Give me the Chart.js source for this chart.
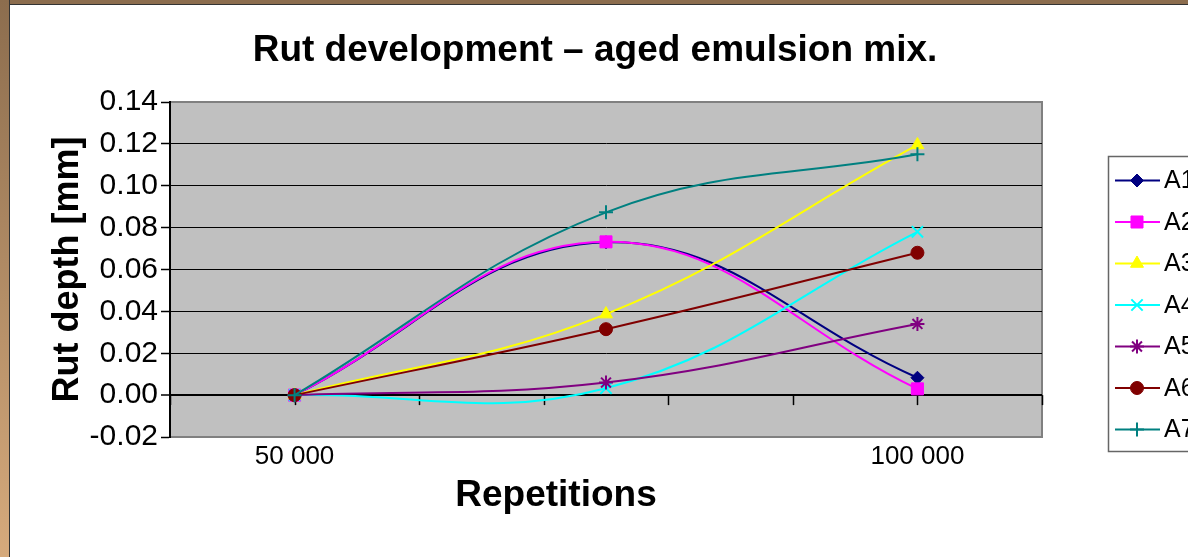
<!DOCTYPE html>
<html>
<head>
<meta charset="utf-8">
<title>Rut development</title>
<script src="https://cdn.jsdelivr.net/npm/chart.js@4.4.1/dist/chart.umd.min.js"></script>
<style>
  html, body { margin: 0; padding: 0; background: #fff; overflow: hidden; }
  #wrap { position: relative; width: 1188px; height: 557px; }
  #canvas { position: absolute; left: 0; top: 0; }
  .frame-top { position: absolute; left: 0; top: 0; width: 1188px; height: 4px; background: #8c6d4e; border-bottom: 1px solid #333; }
  .frame-left { position: absolute; left: 0; top: 0; width: 9px; height: 557px; background: linear-gradient(#8c6d4e, #d6aa7c); border-right: 1px solid #333; }
</style>
</head>
<body>
<div id="wrap">
  <canvas id="canvas" width="1188" height="557"></canvas>
  <div class="frame-top"></div>
  <div class="frame-left"></div>
</div>
<script>
// data
var repetitions = [50000, 75000, 100000];
var seriesNames = ['A1', 'A2', 'A3', 'A4', 'A5', 'A6', 'A7'];
var a1 = [0, 0.0730, 0.0083];
var a2 = [0, 0.0732, 0.0030];
var a3 = [0, 0.0387, 0.1195];
var a4 = [0, 0.0033, 0.0780];
var a5 = [0, 0.0060, 0.0340];
var a6 = [0, 0.0315, 0.0680];
var a7 = [0, 0.0873, 0.1150];
var seriesValues = [a1, a2, a3, a4, a5, a6, a7];

var yMin = -0.02, yMax = 0.14, yStep = 0.02;
var xMin = 40000, xMax = 110000, xStep = 10000;
var xTickLabels = { 50000: '50 000', 100000: '100 000' };

var chartTitle = 'Rut development \u2013 aged emulsion mix.';
var xTitle = 'Repetitions';
var yTitle = 'Rut depth [mm]';

// styles
var FONT = 'Arial, "Liberation Sans", sans-serif';
var seriesColors = ['#000080', '#ff00ff', '#ffff00', '#00ffff', '#800080', '#800000', '#008080'];
var seriesMarkers = ['rectRot', 'rect', 'triangle', 'crossRot', 'star', 'circle', 'cross'];
var markerRadius = [6.5, 8.5, 7.5, 8, 7, 6.5, 7];
var lineMarkers = ['crossRot', 'star', 'cross'];

var datasets = seriesNames.map(function (name, i) {
    var isLine = lineMarkers.indexOf(seriesMarkers[i]) >= 0;
    return {
        label: name,
        data: repetitions.map(function (r, j) { return { x: r, y: seriesValues[i][j] }; }),
        borderColor: seriesColors[i],
        backgroundColor: seriesColors[i],
        pointBackgroundColor: seriesColors[i],
        pointBorderColor: seriesColors[i],
        pointStyle: seriesMarkers[i],
        pointRadius: markerRadius[i],
        pointBorderWidth: isLine ? 2 : 1,
        borderWidth: 2,
        tension: 0.4,
        fill: false,
        order: seriesNames.length - i   // later series drawn on top, like Excel
    };
});

function near(a, b) { return Math.abs(a - b) < 1e-9; }

// gray plot area with border
var plotArea = {
    id: 'plotArea',
    beforeDraw: function (chart) {
        var a = chart.chartArea, ctx = chart.ctx;
        ctx.save();
        ctx.fillStyle = '#c0c0c0';
        ctx.fillRect(a.left, a.top, a.right - a.left, a.bottom - a.top);
        ctx.strokeStyle = '#808080';
        ctx.lineWidth = 2;
        ctx.strokeRect(a.left, a.top, a.right - a.left, a.bottom - a.top);
        ctx.restore();
    }
};

// x tick marks sit on the zero line
var zeroTicks = {
    id: 'zeroTicks',
    beforeDatasetsDraw: function (chart) {
        var xs = chart.scales.x, y0 = chart.scales.y.getPixelForValue(0), ctx = chart.ctx;
        ctx.save();
        ctx.strokeStyle = '#000';
        ctx.lineWidth = 1.5;
        xs.ticks.forEach(function (t) {
            var x = Math.round(xs.getPixelForValue(t.value)) + 0.5;
            ctx.beginPath();
            ctx.moveTo(x, y0);
            ctx.lineTo(x, y0 + 10);
            ctx.stroke();
        });
        ctx.restore();
    }
};

// x title + legend (line with marker, like Excel)
var extras = {
    id: 'extras',
    afterDraw: function (chart) {
        var ctx = chart.ctx;
        ctx.save();
        ctx.fillStyle = '#000';
        ctx.font = 'bold 37px ' + FONT;
        ctx.textAlign = 'center';
        ctx.textBaseline = 'middle';
        ctx.fillText(xTitle, 556, 496);

        ctx.strokeStyle = '#666';
        ctx.lineWidth = 1.5;
        ctx.fillStyle = '#fff';
        ctx.fillRect(1108, 156, 120, 295);
        ctx.strokeRect(1108.5, 156.5, 120, 295);

        chart.data.datasets.forEach(function (ds, i) {
            var y = 180.5 + i * 41.5;
            ctx.strokeStyle = ds.borderColor;
            ctx.lineWidth = 2;
            ctx.beginPath();
            ctx.moveTo(1115, y);
            ctx.lineTo(1160, y);
            ctx.stroke();
            ctx.fillStyle = ds.pointBackgroundColor;
            ctx.strokeStyle = ds.pointBorderColor;
            ctx.lineWidth = ds.pointBorderWidth;
            if (Chart.helpers && Chart.helpers.drawPoint) {
                Chart.helpers.drawPoint(ctx, { pointStyle: ds.pointStyle, radius: ds.pointRadius, rotation: 0, borderWidth: ds.pointBorderWidth }, 1137, y);
            }
            ctx.fillStyle = '#000';
            ctx.font = '25px ' + FONT;
            ctx.textAlign = 'left';
            ctx.textBaseline = 'middle';
            ctx.fillText(ds.label, 1164, y + 1);
        });
        ctx.restore();
    }
};

var canvas = document.getElementById('canvas');
var ctx = canvas.getContext('2d');

var myChart = new Chart(ctx, {
    type: 'line',
    data: { datasets: datasets },
    options: {
        responsive: false,
        devicePixelRatio: 1,
        animation: false,
        layout: { padding: { left: 30, right: 28, top: 0, bottom: 20 } },
        plugins: {
            legend: { display: false },
            tooltip: { enabled: false },
            title: {
                display: true,
                text: chartTitle,
                color: '#000',
                font: { family: FONT, size: 37, weight: 'bold' },
                padding: { top: 29, bottom: 28.6 }
            }
        },
        scales: {
            x: {
                type: 'linear',
                min: xMin,
                max: xMax,
                grid: { display: false, drawTicks: false },
                border: { display: false },
                ticks: {
                    stepSize: xStep,
                    autoSkip: false,
                    maxRotation: 0,
                    padding: 4,
                    color: '#000',
                    font: { family: FONT, size: 26 },
                    callback: function (v) { return xTickLabels[v] || ''; }
                },
                afterFit: function (s) { s.height = 100; }
            },
            y: {
                min: yMin,
                max: yMax,
                grid: {
                    color: function (c) { return (near(c.tick.value, yMax) || near(c.tick.value, yMin)) ? 'rgba(0,0,0,0)' : '#000'; },
                    lineWidth: function (c) { return near(c.tick.value, 0) ? 2 : 1; },
                    tickColor: '#000',
                    tickWidth: 1.5,
                    tickLength: 9
                },
                border: { color: '#000', width: 2 },
                ticks: {
                    stepSize: yStep,
                    autoSkip: false,
                    padding: 3,
                    color: '#000',
                    font: { family: FONT, size: 30 },
                    callback: function (v) { return v.toFixed(2); }
                },
                title: {
                    display: true,
                    text: yTitle,
                    color: '#000',
                    font: { family: FONT, size: 36, weight: 'bold' },
                    padding: { top: 16, bottom: 0 }
                },
                afterFit: function (s) { s.width = 140; }
            },
            // empty room on the right for the legend, keeps the title centred like the original
            y2: {
                type: 'linear',
                position: 'right',
                display: true,
                grid: { display: false },
                border: { display: false },
                ticks: { display: false },
                afterFit: function (s) { s.width = 118; }
            }
        }
    },
    plugins: [plotArea, zeroTicks, extras]
});
</script>
</body>
</html>
